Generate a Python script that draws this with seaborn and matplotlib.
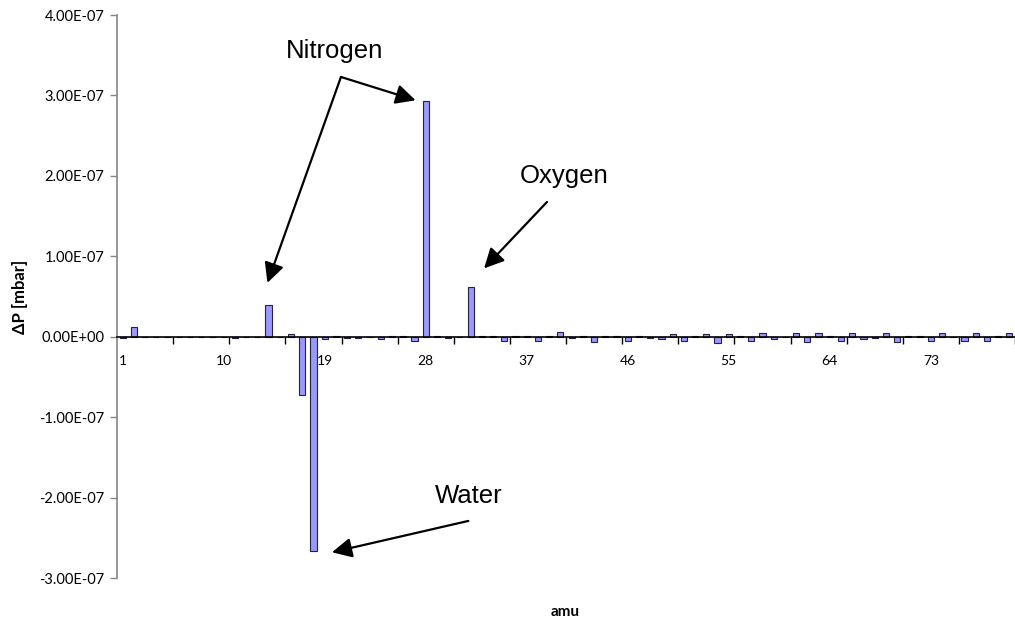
import seaborn as sns
import matplotlib.pyplot as plt
import numpy as np
import pandas as pd

# amu 1..80, pressure change in mbar
amu = list(range(1, 81))
dp = [-1e-9, 1.25e-8, 0, 0, 0, 0, 0, 0, 0, 0,
      -1e-9, 0, 0, 4.0e-8, 0, 3e-9, -7.3e-8, -2.66e-7, -3.3e-9, 1.5e-9,
      -1e-9, -1e-9, 0, -3.3e-9, 1.5e-9, 1.5e-9, -5e-9, 2.93e-7, 1.5e-9, -1.5e-9,
      0, 6.2e-8, 1e-9, 1e-9, -5e-9, 1e-9, 1e-9, -5e-9, 1e-9, 6.2e-9,
      -1e-9, 1e-9, -6e-9, 1e-9, 1e-9, -5e-9, 1e-9, -1e-9, -3.3e-9, 3.7e-9,
      -5e-9, 1e-9, 3e-9, -7.5e-9, 3.7e-9, 1e-9, -5e-9, 5e-9, -3e-9, 0,
      5e-9, -6.2e-9, 5e-9, 1e-9, -5e-9, 5e-9, -3e-9, -1e-9, 5e-9, -6.2e-9,
      1e-9, 1e-9, -5e-9, 5e-9, 0, -5e-9, 5e-9, -5e-9, 1e-9, 5e-9]
yticks = [-3e-7, -2e-7, -1e-7, 0, 1e-7, 2e-7, 3e-7, 4e-7]
label_amu = [1, 10, 19, 28, 37, 46, 55, 64, 73]

df = pd.DataFrame({"amu": amu, "dp": dp})

sns.set_style("white")
plt.rcParams['font.family'] = ['Lato', 'DejaVu Sans']
plt.rcParams['text.color'] = 'black'
plt.rcParams['axes.labelcolor'] = 'black'
plt.rcParams['xtick.color'] = 'black'
plt.rcParams['ytick.color'] = 'black'

fig = plt.figure(figsize=(10.15, 6.21), dpi=100)
ax = fig.add_axes([0.1153, 0.0692, 0.8847, 0.9066])

sns.barplot(data=df, x="amu", y="dp", color="#9999ff", saturation=1,
            width=0.55, edgecolor="#222244", linewidth=0.8, ax=ax)

ax.set_ylim(-3e-7, 4e-7)
ax.set_xlim(-0.5, 79.1)
ax.set_yticks(yticks)
ax.set_yticklabels(["%.2E" % v for v in yticks], fontsize=10.5)
ax.tick_params(axis="y", left=True, length=5, color="#868686", width=1,
               direction="out", pad=4, labelcolor="black")

# category labels every 9, tick marks every 5 categories
pos = [amu.index(a) for a in label_amu]
ax.set_xticks(pos)
ax.set_xticklabels([str(a) for a in label_amu], fontsize=10.5)
ax.set_xticks(np.arange(4.5, 80, 5), minor=True)
ax.tick_params(axis="x", which="major", bottom=True, length=0, pad=13)
ax.tick_params(axis="x", which="minor", bottom=True, length=5, width=1,
               color="black", direction="out")

for s in ["top", "right"]:
    ax.spines[s].set_visible(False)
ax.spines["bottom"].set_position(("data", 0))
ax.spines["bottom"].set_color("black")
ax.spines["bottom"].set_linewidth(1.2)
ax.spines["left"].set_color("#868686")
ax.spines["left"].set_linewidth(1.2)

ax.set_xlabel("")
ax.set_ylabel("ΔP [mbar]", fontsize=12, fontweight="bold", labelpad=8)
fig.text(0.557, 0.003, "amu", fontsize=11, fontweight="bold", ha="center", va="bottom")

# annotations
arrow = dict(arrowstyle="-|>", color="black", lw=1.6, mutation_scale=30,
             shrinkA=0, shrinkB=0)
tf = dict(fontsize=18.5, family="Liberation Sans", ha="center", va="center",
          color="black")

ax.text(18.9, 3.55e-7, "Nitrogen", **tf)
ax.annotate("", xy=(12.9, 6.7e-8), xytext=(19.45, 3.23e-7), arrowprops=arrow)
ax.annotate("", xy=(26.1, 2.94e-7), xytext=(19.45, 3.23e-7), arrowprops=arrow)

ax.text(39.3, 2.0e-7, "Oxygen", **tf)
ax.annotate("", xy=(32.2, 0.85e-7), xytext=(37.8, 1.675e-7), arrowprops=arrow)

ax.text(30.8, -1.98e-7, "Water", **tf)
ax.annotate("", xy=(18.65, -2.68e-7), xytext=(30.8, -2.29e-7), arrowprops=arrow)

plt.savefig("out.png", dpi=100)
